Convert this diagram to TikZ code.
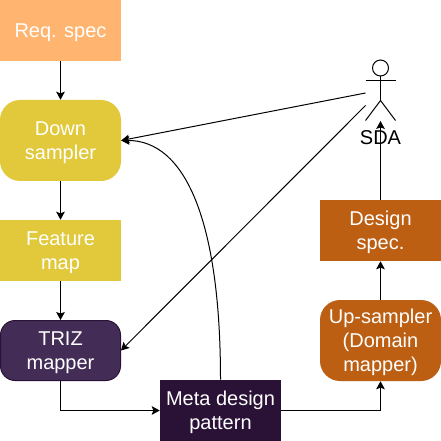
\documentclass[tikz,border=0pt]{standalone}
\usepackage{fontspec}
\setmainfont{Liberation Sans}
\usetikzlibrary{positioning}
\usetikzlibrary{arrows.meta}
\definecolor{reqorange}{HTML}{FFB570}
\definecolor{downyellow}{HTML}{E1C93B}
\definecolor{trizpurple}{HTML}{432D57}
\definecolor{metapurple}{HTML}{2A1136}
\definecolor{upbrown}{HTML}{BC5F13}
\newcommand{\lowertext}{\rule{0pt}{14pt}}
\tikzset{
    node distance=82.5pt,
    block node/.style={
        text=white,
        align=center,
        inner sep=0pt,
        minimum width=90.75pt,
        minimum height=45.75pt,
        font=\fontsize{15}{18}\selectfont
    },
    tall node/.style={
        block node,
        minimum height=60.75pt,
        rounded corners=15pt
    },
    link/.style={
        draw,
        -{Stealth[length=6pt,width=6.5pt,inset=1.2pt]},
        line width=0.75pt
    },
    actor line/.style={
        draw,
        line width=0.75pt
    }
}
\begin{document}
\begin{tikzpicture}[x=0.75pt,y=-0.75pt]
    \useasboundingbox (0,0) rectangle (441,441);
    \node[block node, fill=reqorange] (reqspec) at (60.5,30.5) {\lowertext Req. spec};
    \node[tall node, fill=downyellow, below of = reqspec] (downsamp) {\lowertext Down\\sampler};
    \node[block node, fill=downyellow, below of = downsamp] (featmap) {\lowertext Feature\\map};
    \node[block node, fill=trizpurple, draw=metapurple, line width=0.75pt, rounded corners=11pt, below of = featmap, yshift=7.5pt, minimum width=90pt, minimum height=45pt] (trizmap) {\lowertext TRIZ\\mapper};
    \node[block node, fill=metapurple, right of = trizmap, xshift=37.5pt, yshift=-45pt] (metapat) {\lowertext Meta design\\pattern};
    \node[tall node, fill=upbrown, right of = metapat, xshift=37.5pt, yshift=52.5pt] (upsamp) {\lowertext Up-sampler\\(Domain\\mapper)};
    \node[block node, fill=upbrown, above of = upsamp] (designspec) {\lowertext Design\\spec.};

    % actor
    \coordinate (neck) at (380.5,76);
    \coordinate (hip) at (380.5,100.5);
    \coordinate (armleft) at (365.5,80.5);
    \coordinate (armright) at (395.5,80.5);
    \coordinate (legleft) at (365.5,120.5);
    \coordinate (legright) at (395.5,120.5);
    \coordinate (handin) at (365.5,93);
    \coordinate (legin) at (365.5,105.5);
    \node[actor line, circle, minimum size=12pt, inner sep=0pt] (head) at (380.5,68) {};
    \node[font=\fontsize{15}{18}\selectfont, inner sep=0pt] (sda) at (380.5,138) {SDA};
    \draw[actor line] (neck) -- (hip);
    \draw[actor line] (armleft) -- (armright);
    \draw[actor line] (legleft) -- (hip) -- (legright);

    \draw[link] (reqspec) -- (downsamp);
    \draw[link] (downsamp) -- (featmap);
    \draw[link] (featmap) -- (trizmap);
    \draw[link] (trizmap.south) |- (metapat.west);
    \draw[link] (metapat.east) -| (upsamp.south);
    \draw[link] (upsamp) -- (designspec);
    \draw[link] (designspec.north) -- (380.5,121);
    \draw[link] (handin) -- (downsamp.east);
    \draw[link] (legin) -- (trizmap.east);
    \draw[link] (metapat.north) .. controls (220.5,220) and (185,140) .. (downsamp.east);
\end{tikzpicture}
\end{document}
